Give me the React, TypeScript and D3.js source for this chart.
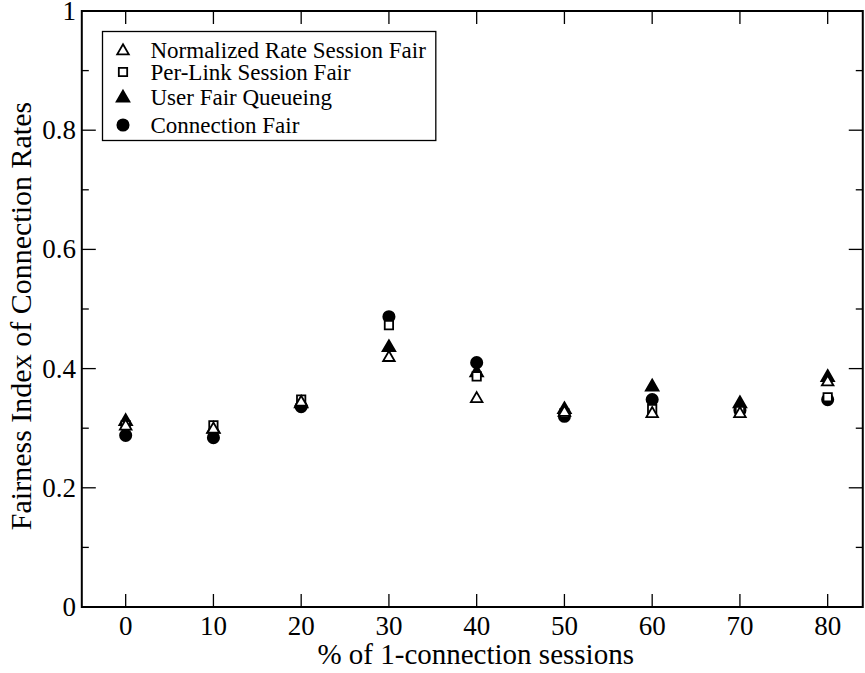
import React, { useEffect, useRef } from "react";
import * as d3 from "d3";

// % of 1-connection sessions
const categories = [0, 10, 20, 30, 40, 50, 60, 70, 80];

const normalizedRateSessionFair = [0.305, 0.3, 0.345, 0.42, 0.351, 0.328, 0.326, 0.326, 0.379];
const perLinkSessionFair = [0.305, 0.305, 0.348, 0.473, 0.387, 0.325, 0.332, 0.329, 0.352];
const userFairQueueing = [0.313, 0.3, 0.343, 0.437, 0.395, 0.333, 0.371, 0.343, 0.387];
const connectionFair = [0.288, 0.284, 0.336, 0.487, 0.41, 0.32, 0.348, 0.33, 0.348];

const yTicks = [0, 0.2, 0.4, 0.6, 0.8, 1];
const yMinorTicks = [0.1, 0.3, 0.5, 0.7, 0.9];

const seriesNames = [
  "Normalized Rate Session Fair",
  "Per-Link Session Fair",
  "User Fair Queueing",
  "Connection Fair",
];

const FONT = "'Liberation Serif', 'Times New Roman', serif";

const App = () => {
  const chartRef = useRef<SVGSVGElement>(null);

  useEffect(() => {
    const svg = d3.select(chartRef.current);
    svg.selectAll("*").remove();

    const H = 673;
    const margin = { top: 11, bottom: 66, left: 81.8 };
    const x = d3.scaleLinear().domain([-5, 84]).range([margin.left, margin.left + 89 * 8.775]);
    const width = x(84) - margin.left;
    const height = H - margin.top - margin.bottom;
    const y = d3.scaleLinear().domain([0, 1]).range([height, 0]);

    const g = svg.append("g").attr("transform", `translate(0,${margin.top})`);

    // ticks on all four sides, pointing inward
    const tickStyle = (sel: any) => sel.attr("stroke", "#000").attr("stroke-width", 1.3);
    const left = margin.left;
    const right = margin.left + width;
    categories.forEach((c) => {
      g.append("line").attr("x1", x(c)).attr("x2", x(c)).attr("y1", height).attr("y2", height - 13).call(tickStyle);
      g.append("line").attr("x1", x(c)).attr("x2", x(c)).attr("y1", 0).attr("y2", 13).call(tickStyle);
    });
    yTicks.forEach((t) => {
      g.append("line").attr("x1", left).attr("x2", left + 14).attr("y1", y(t)).attr("y2", y(t)).call(tickStyle);
      g.append("line").attr("x1", right).attr("x2", right - 14).attr("y1", y(t)).attr("y2", y(t)).call(tickStyle);
    });
    yMinorTicks.forEach((t) => {
      g.append("line").attr("x1", left).attr("x2", left + 7).attr("y1", y(t)).attr("y2", y(t)).call(tickStyle);
      g.append("line").attr("x1", right).attr("x2", right - 7).attr("y1", y(t)).attr("y2", y(t)).call(tickStyle);
    });

    // frame
    g.append("rect")
      .attr("x", left)
      .attr("width", width)
      .attr("height", height)
      .attr("fill", "none")
      .attr("stroke", "#000")
      .attr("stroke-width", 2);

    // tick labels
    g.selectAll(".xl")
      .data(categories)
      .enter()
      .append("text")
      .attr("x", (d) => x(d))
      .attr("y", height + 28)
      .attr("text-anchor", "middle")
      .style("font-family", FONT)
      .style("font-size", "27px")
      .text((d) => d);

    g.selectAll(".yl")
      .data(yTicks)
      .enter()
      .append("text")
      .attr("x", 76)
      .attr("y", (d) => y(d) + 9)
      .attr("text-anchor", "end")
      .style("font-family", FONT)
      .style("font-size", "27px")
      .text((d) => (d === 0 || d === 1 ? String(d) : d3.format(".1f")(d)));

    // axis titles
    g.append("text")
      .attr("x", x(40) - 1)
      .attr("y", height + 57)
      .attr("text-anchor", "middle")
      .style("font-family", FONT)
      .style("font-size", "29px")
      .text("% of 1-connection sessions");

    g.append("text")
      .attr("transform", `translate(31,${316 - margin.top}) rotate(-90)`)
      .attr("text-anchor", "middle")
      .style("font-family", FONT)
      .style("font-size", "30px")
      .text("Fairness Index of Connection Rates");

    const symbols = [
      { type: d3.symbolTriangle, size: 58, fill: "#fff" },
      { type: d3.symbolSquare, size: 70, fill: "#fff" },
      { type: d3.symbolTriangle, size: 70, fill: "#000" },
      { type: d3.symbolCircle, size: 100, fill: "#000" },
    ];
    const allSeries = [normalizedRateSessionFair, perLinkSessionFair, userFairQueueing, connectionFair];

    // draw last legend entry first so open markers sit on top
    for (let s = allSeries.length - 1; s >= 0; s--) {
      const sym = symbols[s];
      const path = d3.symbol().type(sym.type).size(sym.size)();
      const dy = sym.type === d3.symbolTriangle ? 1 : 0;
      g.selectAll(`.m${s}`)
        .data(allSeries[s])
        .enter()
        .append("path")
        .attr("d", path)
        .attr("transform", (d, i) => `translate(${x(categories[i])},${y(d) + dy})`)
        .attr("fill", sym.fill)
        .attr("stroke", "#000")
        .attr("stroke-width", 1.8);
    }

    // legend
    const lg = svg.append("g");
    const box = lg
      .append("rect")
      .attr("x", 102.5)
      .attr("y", 31.5)
      .attr("height", 109)
      .attr("fill", "#fff")
      .attr("stroke", "#000")
      .attr("stroke-width", 1.3);
    const rowY = [50, 72, 97, 125];
    let maxEnd = 0;
    seriesNames.forEach((name, i) => {
      const sym = symbols[i];
      lg.append("path")
        .attr("d", d3.symbol().type(sym.type).size(sym.size)())
        .attr("transform", `translate(123,${rowY[i] + (sym.type === d3.symbolTriangle ? 1 : 0)})`)
        .attr("fill", sym.fill)
        .attr("stroke", "#000")
        .attr("stroke-width", 1.8);
      const t = lg
        .append("text")
        .attr("x", 150.5)
        .attr("y", rowY[i] + 7.5)
        .style("font-family", FONT)
        .style("font-size", "23px")
        .text(name);
      const node = t.node() as SVGTextElement;
      maxEnd = Math.max(maxEnd, 150.5 + node.getComputedTextLength());
    });
    box.attr("width", maxEnd + 10 - 102.5);
  }, []);

  return (
    <svg
      ref={chartRef}
      width={865}
      height={673}
      style={{ position: "absolute", left: 0, top: 0, background: "#fff" }}
    />
  );
};

export default App;
